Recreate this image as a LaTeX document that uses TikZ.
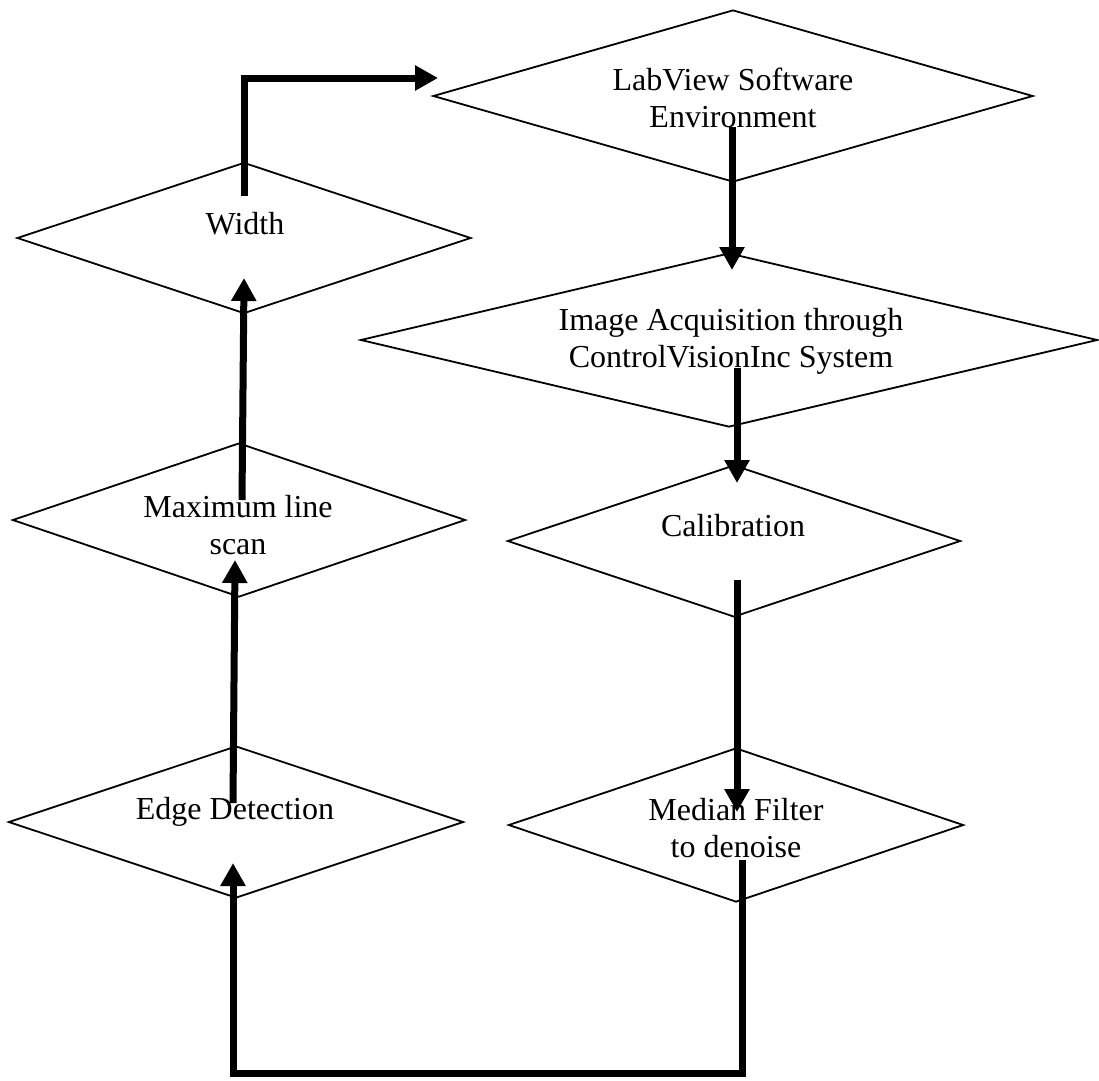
\documentclass[tikz,border=0pt]{standalone}
\usepackage{fontspec}
\setmainfont{Liberation Serif}
\usetikzlibrary{shapes.geometric,arrows.meta}
\begin{document}
\begin{tikzpicture}[x=1pt,y=-1pt,
  dia/.style args={#1x#2}{draw, diamond, minimum width=#1pt, minimum height=#2pt, inner sep=0pt, line width=1.8pt},
  txt/.style={align=center, inner sep=0pt, font=\fontsize{32}{37}\selectfont},
  flow/.style={line width=7pt, line join=miter, -{Triangle[length=23pt,width=24pt]}}]
\useasboundingbox (0,0) rectangle (1099,1080);
% diamonds
\node[dia=600x172] (lab) at (733,96) {};
\node[dia=454x151] (wid) at (244,238) {};
\node[dia=737x174] (img) at (729,340) {};
\node[dia=453x152] (cal) at (734,541) {};
\node[dia=453x154] (max) at (239,520) {};
\node[dia=455x152] (edg) at (236,822) {};
\node[dia=455x154] (med) at (736,825) {};
% texts
\node[txt] (tlab) at (733,98) {LabView Software\\Environment};
\node[txt] (twid) at (245,224) {Width};
\node[txt] (timg) at (731,341) {Image Acquisition through\\ControlVisionInc System};
\node[txt] (tcal) at (733,526) {Calibration};
\node[txt] (tmax) at (238,525) {Maximum line\\scan};
\node[txt] (tedg) at (235,812) {Edge Detection};
\node[txt] (tmed) at (736,828) {Median Filter\\to denoise};
% connector end points
\coordinate (w1) at (244,196);
\coordinate (w2) at (438,78);
\coordinate (l1) at (732,127);
\coordinate (l2) at (732,270);
\coordinate (i1) at (737,368);
\coordinate (i2) at (737,483);
\coordinate (c1) at (737,580);
\coordinate (c2) at (737,812);
\coordinate (m1) at (742,860);
\coordinate (mb) at (742,1073);
\coordinate (eb) at (233,1073);
\coordinate (e2) at (233,863);
\coordinate (e1) at (233,803);
\coordinate (x2) at (235,560);
\coordinate (x1) at (242,500);
\coordinate (wi2) at (244,278);
% connectors
\draw[flow] (w1) |- (w2);
\draw[flow] (l1) -- (l2);
\draw[flow] (i1) -- (i2);
\draw[flow] (c1) -- (c2);
\draw[flow] (m1) -- (mb) -- (eb) -- (e2);
\draw[flow] (e1) -- (x2);
\draw[flow] (x1) -- (wi2);
\end{tikzpicture}
\end{document}
